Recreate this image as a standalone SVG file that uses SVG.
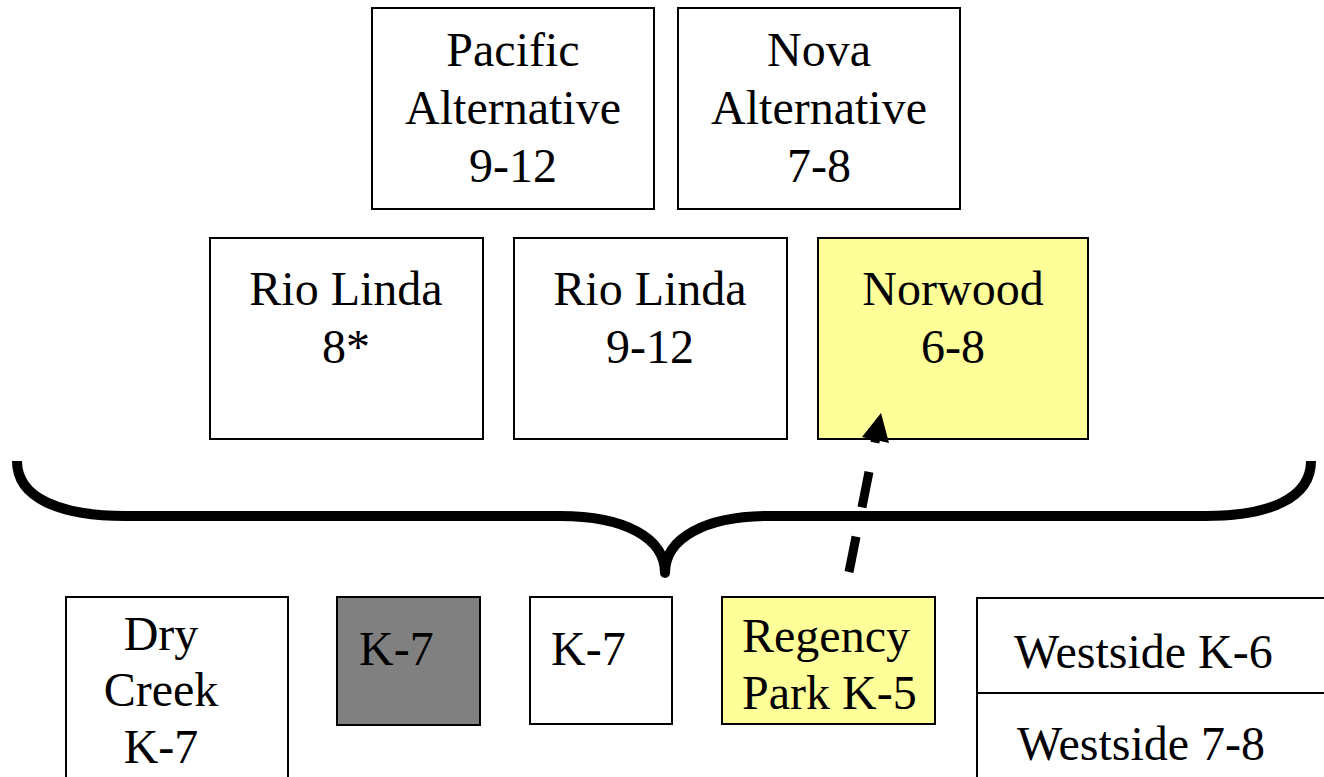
<svg xmlns="http://www.w3.org/2000/svg" width="1324" height="777" viewBox="0 0 1324 777">
<style>
.box{stroke:#000;stroke-width:2;fill:#fff}
.yel{fill:#ffff99}
.gray{fill:#808080}
text{font-family:"Liberation Serif","Times New Roman",serif;font-size:48px;fill:#000}
.c{text-anchor:middle}
</style>
<rect width="1324" height="777" fill="#fff"/>
<g id="pacific"><rect class="box" x="372" y="8" width="282" height="201"/>
<text class="c" x="513" y="66">Pacific</text><text class="c" x="513" y="124">Alternative</text><text class="c" x="513" y="182">9-12</text></g>
<g id="nova"><rect class="box" x="678" y="8" width="282" height="201"/>
<text class="c" x="819" y="66">Nova</text><text class="c" x="819" y="124">Alternative</text><text class="c" x="819" y="182">7-8</text></g>
<g id="riolinda8"><rect class="box" x="210" y="238" width="273" height="201"/>
<text class="c" x="346" y="305">Rio Linda</text><text class="c" x="346" y="363">8*</text></g>
<g id="riolinda912"><rect class="box" x="514" y="238" width="273" height="201"/>
<text class="c" x="650" y="305">Rio Linda</text><text class="c" x="650" y="363">9-12</text></g>
<g id="norwood"><rect class="box yel" x="818" y="238" width="270" height="201"/>
<text class="c" x="953" y="305">Norwood</text><text class="c" x="953" y="363">6-8</text></g>
<g id="drycreek"><rect class="box" x="66" y="597" width="222" height="190"/>
<text class="c" x="161" y="650">Dry</text><text class="c" x="161" y="706">Creek</text><text class="c" x="161" y="763">K-7</text></g>
<g id="k7gray"><rect class="box gray" x="337" y="597" width="143" height="128"/>
<text x="359" y="665">K-7</text></g>
<g id="k7white"><rect class="box" x="530" y="597" width="142" height="127"/>
<text x="551" y="665">K-7</text></g>
<g id="regency"><rect class="box yel" x="722" y="597" width="213" height="127"/>
<text x="742" y="652">Regency</text><text x="742" y="709">Park K-5</text></g>
<g id="westside"><rect class="box" x="977" y="598" width="360" height="190"/>
<line x1="977" y1="693" x2="1324" y2="693" stroke="#000" stroke-width="2"/>
<text x="1014" y="668">Westside K-6</text><text x="1017" y="760">Westside 7-8</text></g>
<g id="connectors">
<path d="M17,461 C17,498 60,516 125,516 L560,516 C625,516 665,538 665,573 C665,538 705,516 770,516 L1205,516 C1270,516 1311,498 1311,461" fill="none" stroke="#000" stroke-width="10" stroke-linejoin="round"/>
<line x1="849" y1="572" x2="877" y2="432" stroke="#000" stroke-width="9" stroke-dasharray="36 30"/>
<polygon points="881,413 889,443 862,437" fill="#000"/>
</g>
</svg>
